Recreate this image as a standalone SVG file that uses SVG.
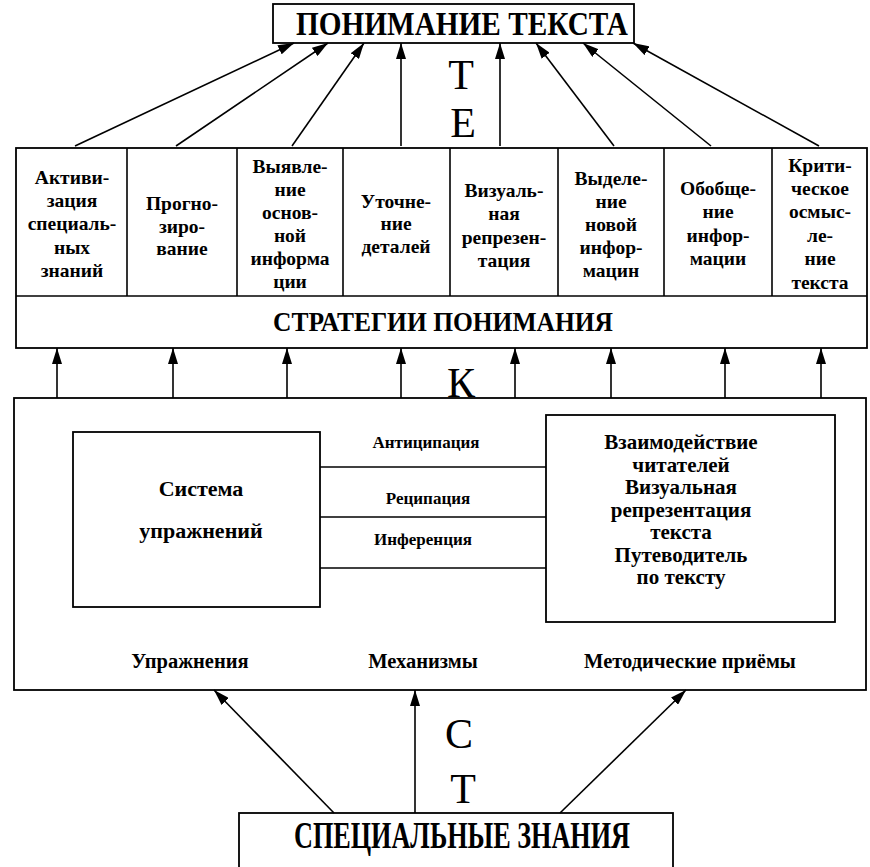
<svg xmlns="http://www.w3.org/2000/svg" width="870" height="867" viewBox="0 0 870 867">
<style>
.box{fill:#fff;stroke:#000;stroke-width:1.8}
.ln{stroke:#000;stroke-width:1.6;fill:none}
.arr{stroke:#000;stroke-width:1.6;fill:none;marker-end:url(#ah)}
.t{font-family:"Liberation Serif","Times New Roman",serif;font-weight:bold;text-anchor:middle;fill:#000}
.s{font-size:19.5px}
.big{font-family:"Liberation Serif","Times New Roman",serif;font-size:42px;text-anchor:middle;fill:#000}
</style>
<defs>
<marker id="ah" viewBox="0 0 16 10" refX="16" refY="5" markerWidth="16" markerHeight="10" markerUnits="userSpaceOnUse" orient="auto">
<path d="M0,0 L16,5 L0,10 Z" fill="#000"/>
</marker>
</defs>
<rect width="870" height="867" fill="#fff"/>

<g id="top">
<rect class="box" x="273" y="4" width="361" height="39"/>
<text class="t" x="462" y="35" font-size="33" textLength="332" lengthAdjust="spacingAndGlyphs">ПОНИМАНИЕ ТЕКСТА</text>
</g>

<g id="strategies">
<rect class="box" x="16" y="148" width="851" height="200"/>
<line class="ln" x1="16" y1="296" x2="867" y2="296"/>
<text class="t" x="443" y="331" font-size="27" textLength="340" lengthAdjust="spacingAndGlyphs">СТРАТЕГИИ ПОНИМАНИЯ</text>
</g>

<g id="s1">
<text class="t s"><tspan x="72" y="184">Активи-</tspan><tspan x="72" y="207">зация</tspan><tspan x="72" y="230">специаль-</tspan><tspan x="72" y="254">ных</tspan><tspan x="72" y="277">знаний</tspan></text>
</g>
<g id="s2">
<line class="ln" x1="127" y1="148" x2="127" y2="296"/>
<text class="t s"><tspan x="182" y="210">Прогно-</tspan><tspan x="182" y="233">зиро-</tspan><tspan x="182" y="255">вание</tspan></text>
</g>
<g id="s3">
<line class="ln" x1="237" y1="148" x2="237" y2="296"/>
<text class="t s"><tspan x="290" y="173">Выявле-</tspan><tspan x="290" y="196">ние</tspan><tspan x="290" y="219">основ-</tspan><tspan x="290" y="242">ной</tspan><tspan x="290" y="265">информа</tspan><tspan x="290" y="288">ции</tspan></text>
</g>
<g id="s4">
<line class="ln" x1="343" y1="148" x2="343" y2="296"/>
<text class="t s"><tspan x="396" y="208">Уточне-</tspan><tspan x="396" y="230">ние</tspan><tspan x="396" y="253">деталей</tspan></text>
</g>
<g id="s5">
<line class="ln" x1="450" y1="148" x2="450" y2="296"/>
<text class="t s"><tspan x="504" y="197">Визуаль-</tspan><tspan x="504" y="220">ная</tspan><tspan x="504" y="244">репрезен-</tspan><tspan x="504" y="267">тация</tspan></text>
</g>
<g id="s6">
<line class="ln" x1="558" y1="148" x2="558" y2="296"/>
<text class="t s"><tspan x="611" y="185">Выделе-</tspan><tspan x="611" y="208">ние</tspan><tspan x="611" y="231">новой</tspan><tspan x="611" y="254">инфор-</tspan><tspan x="611" y="277">мацин</tspan></text>
</g>
<g id="s7">
<line class="ln" x1="664" y1="148" x2="664" y2="296"/>
<text class="t s"><tspan x="718" y="195">Обобще-</tspan><tspan x="718" y="218">ние</tspan><tspan x="718" y="242">инфор-</tspan><tspan x="718" y="265">мации</tspan></text>
</g>
<g id="s8">
<line class="ln" x1="772" y1="148" x2="772" y2="296"/>
<text class="t s"><tspan x="820" y="172">Крити-</tspan><tspan x="820" y="195">ческое</tspan><tspan x="820" y="218">осмыс-</tspan><tspan x="820" y="242">ле-</tspan><tspan x="820" y="265">ние</tspan><tspan x="820" y="289">текста</tspan></text>
</g>

<g id="main">
<rect class="box" x="14" y="398" width="852" height="292"/>
<text class="t" font-size="20.5"><tspan x="190" y="668">Упражнения</tspan><tspan x="423" y="668">Механизмы</tspan><tspan x="690" y="668">Методические приёмы</tspan></text>
</g>
<g id="exercises">
<rect class="box" x="73" y="432" width="247" height="175"/>
<text class="t" font-size="22"><tspan x="201" y="496">Система</tspan><tspan x="201" y="538">упражнений</tspan></text>
</g>
<g id="techniques">
<rect class="box" x="546" y="415" width="289" height="207"/>
<text class="t" font-size="21"><tspan x="681" y="449">Взаимодействие</tspan><tspan x="681" y="472">читателей</tspan><tspan x="681" y="494">Визуальная</tspan><tspan x="681" y="517">репрезентация</tspan><tspan x="681" y="539">текста</tspan><tspan x="681" y="562">Путеводитель</tspan><tspan x="681" y="584">по тексту</tspan></text>
</g>

<g id="knowledge">
<rect class="box" x="239" y="813" width="434" height="60"/>
<text class="t" x="462" y="848" font-size="37" textLength="336" lengthAdjust="spacingAndGlyphs">СПЕЦИАЛЬНЫЕ ЗНАНИЯ</text>
</g>

<g id="connectors">
<line class="arr" x1="75" y1="146" x2="294" y2="43"/>
<line class="arr" x1="176" y1="146" x2="328" y2="43"/>
<line class="arr" x1="292" y1="146" x2="364" y2="43"/>
<line class="arr" x1="401" y1="146" x2="401" y2="43"/>
<line class="arr" x1="500" y1="146" x2="500" y2="43"/>
<line class="arr" x1="614" y1="146" x2="536" y2="43"/>
<line class="arr" x1="711" y1="146" x2="583" y2="43"/>
<line class="arr" x1="819" y1="146" x2="633" y2="43"/>

<line class="arr" x1="57" y1="398" x2="57" y2="348"/>
<line class="arr" x1="173" y1="398" x2="173" y2="348"/>
<line class="arr" x1="287" y1="398" x2="287" y2="348"/>
<line class="arr" x1="401" y1="398" x2="401" y2="348"/>
<line class="arr" x1="515" y1="398" x2="515" y2="348"/>
<line class="arr" x1="611" y1="398" x2="611" y2="348"/>
<line class="arr" x1="725" y1="398" x2="725" y2="348"/>
<line class="arr" x1="821" y1="398" x2="821" y2="348"/>

<line class="ln" x1="320" y1="467" x2="546" y2="467"/>
<line class="ln" x1="320" y1="517" x2="546" y2="517"/>
<line class="ln" x1="320" y1="568" x2="546" y2="568"/>
<text class="t" font-size="17"><tspan x="426" y="448">Антиципация</tspan><tspan x="428" y="504">Реципация</tspan><tspan x="423" y="545">Инференция</tspan></text>

<line class="arr" x1="334" y1="813" x2="214" y2="690"/>
<line class="arr" x1="415" y1="813" x2="415" y2="690"/>
<line class="arr" x1="560" y1="813" x2="686" y2="690"/>
</g>

<g id="letters">
<text class="big" x="461" y="89">Т</text>
<text class="big" x="463" y="137">Е</text>
<text class="big" x="461" y="397">К</text>
<text class="big" x="459" y="748">С</text>
<text class="big" x="463" y="803">Т</text>
</g>
</svg>
